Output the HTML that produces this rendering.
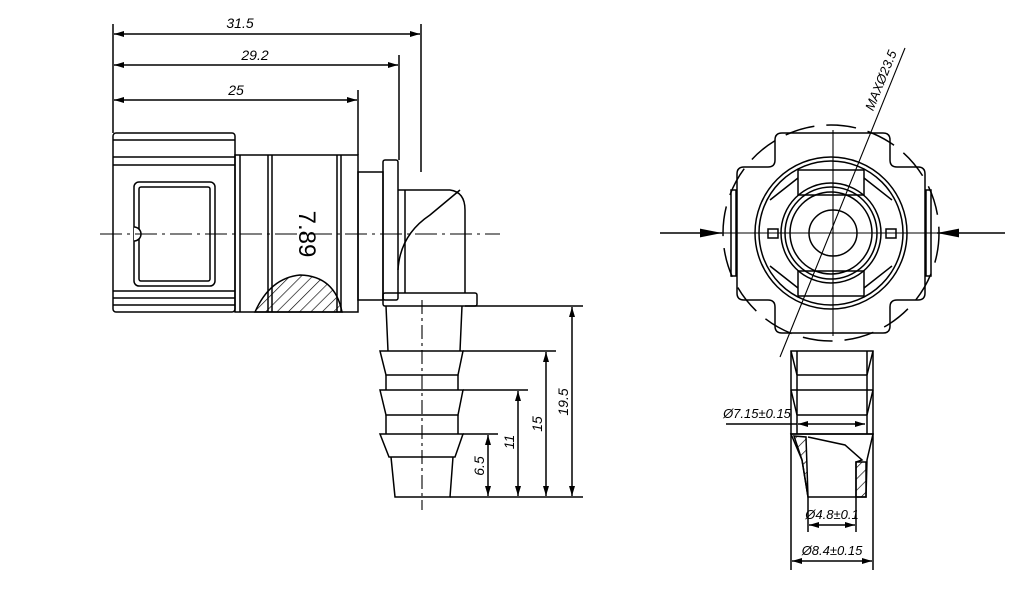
<!DOCTYPE html>
<html><head><meta charset="utf-8"><style>html,body{margin:0;padding:0;background:#fff}svg{display:block}</style></head><body>
<svg width="1024" height="593" viewBox="0 0 1024 593" xmlns="http://www.w3.org/2000/svg" font-family="Liberation Sans, sans-serif">
<defs>
<marker id="a" viewBox="0 0 10 6" refX="10" refY="3" markerWidth="10" markerHeight="6" markerUnits="userSpaceOnUse" orient="auto-start-reverse"><path d="M0,0L10,3L0,6z" fill="#000"/></marker>
<marker id="b" viewBox="0 0 20 8" refX="20" refY="4" markerWidth="22" markerHeight="9" markerUnits="userSpaceOnUse" orient="auto"><path d="M0,0L20,4L0,8z" fill="#000"/></marker>
<pattern id="h" width="8" height="8" patternUnits="userSpaceOnUse" patternTransform="rotate(45)"><line x1="0" y1="0" x2="0" y2="8" stroke="#000" stroke-width="1.3"/></pattern>
</defs>
<g fill="none" stroke="#000" stroke-width="1.5">
<!-- top dims -->
<line x1="113" y1="24" x2="113" y2="133"/>
<line x1="421" y1="24" x2="421" y2="172"/>
<line x1="399" y1="55" x2="399" y2="160"/>
<line x1="358" y1="90" x2="358" y2="155"/>
<line x1="114" y1="34" x2="420" y2="34" marker-start="url(#a)" marker-end="url(#a)"/>
<line x1="114" y1="65" x2="398" y2="65" marker-start="url(#a)" marker-end="url(#a)"/>
<line x1="114" y1="100" x2="357" y2="100" marker-start="url(#a)" marker-end="url(#a)"/>
<!-- nut -->
<rect x="113" y="133" width="122" height="179" rx="3"/>
<line x1="113" y1="140" x2="235" y2="140"/><line x1="113" y1="157" x2="235" y2="157"/><line x1="113" y1="165" x2="235" y2="165"/>
<line x1="113" y1="291" x2="235" y2="291"/><line x1="113" y1="298" x2="235" y2="298"/><line x1="113" y1="305" x2="235" y2="305"/>
<rect x="134" y="182" width="81" height="104" rx="5"/>
<rect x="139" y="187" width="71" height="94" rx="2"/>
<path d="M134,227 a7,7 0 0 1 0,14" fill="#fff"/>
<!-- barrel -->
<rect x="235" y="155" width="123" height="157"/>
<line x1="240" y1="155" x2="240" y2="312"/>
<line x1="268" y1="155" x2="268" y2="312"/><line x1="272" y1="155" x2="272" y2="312"/>
<line x1="337" y1="155" x2="337" y2="312"/><line x1="341" y1="155" x2="341" y2="312"/>
<path d="M255,312 Q270,278 300,275 Q335,276 342,312 Z" fill="url(#h)"/>
<!-- neck/flange/elbow -->
<rect x="358" y="172" width="25" height="128"/>
<rect x="383" y="160" width="15" height="140" rx="2"/>
<path d="M398,190 L450,190 Q465,192 465,210 L465,293"/>
<path d="M398,270 Q400,235 430,215 L460,190"/>
<line x1="405" y1="190" x2="405" y2="293"/>
<rect x="383" y="293" width="94" height="13" rx="2"/>
<!-- barb -->
<path d="M386,306 L388,351 M462,306 L460,351"/>
<path d="M380,351 L463,351 L458,375 L386,375 Z"/>
<path d="M386,375 L386,390 M458,375 L458,390"/>
<path d="M380,390 L463,390 L458,415 L386,415 Z"/>
<path d="M386,415 L386,434 M458,415 L458,434"/>
<path d="M380,434 L463,434 L455,457 L389,457 Z"/>
<path d="M391,457 L395,497 L450,497 L453,457"/>
<line x1="422" y1="300" x2="422" y2="510" stroke-dasharray="14,4,3,4" stroke-width="1.1"/>
<line x1="100" y1="234" x2="500" y2="234" stroke-dasharray="22,5,3,5" stroke-width="1.1"/>
<!-- right dims -->
<line x1="465" y1="306" x2="583" y2="306"/>
<line x1="463" y1="351" x2="556" y2="351"/>
<line x1="463" y1="390" x2="528" y2="390"/>
<line x1="463" y1="434" x2="498" y2="434"/>
<line x1="450" y1="497" x2="583" y2="497"/>
<line x1="572" y1="307" x2="572" y2="496" marker-start="url(#a)" marker-end="url(#a)"/>
<line x1="546" y1="352" x2="546" y2="496" marker-start="url(#a)" marker-end="url(#a)"/>
<line x1="518" y1="391" x2="518" y2="496" marker-start="url(#a)" marker-end="url(#a)"/>
<line x1="488" y1="435" x2="488" y2="496" marker-start="url(#a)" marker-end="url(#a)"/>
<!-- RIGHT VIEW -->
<circle cx="831" cy="233" r="108" stroke-dasharray="30,12"/>
<path d="M782,133 L883,133 Q890,133 890,140 L890,160 Q890,167 897,167 L918,167 Q925,167 925,174 L925,293 Q925,300 918,300 L897,300 Q890,300 890,307 L890,326 Q890,333 883,333 L782,333 Q775,333 775,326 L775,307 Q775,300 768,300 L744,300 Q737,300 737,293 L737,174 Q737,167 744,167 L768,167 Q775,167 775,160 L775,140 Q775,133 782,133 Z"/>
<rect x="731" y="190" width="5" height="86"/><rect x="926" y="190" width="5" height="86"/>
<circle cx="831" cy="233" r="76"/><circle cx="831" cy="233" r="72"/>
<circle cx="831" cy="233" r="50"/><circle cx="831" cy="233" r="46"/><circle cx="831" cy="233" r="41"/>
<ellipse cx="833" cy="233" rx="24" ry="23"/>
<rect x="798" y="170" width="66" height="25"/><rect x="798" y="271" width="66" height="25"/>
<path d="M770,200 L798,178 M770,266 L798,288 M892,200 L864,178 M892,266 L864,288"/>
<rect x="768" y="229" width="10" height="9"/><rect x="886" y="229" width="10" height="9"/>
<line x1="833" y1="130" x2="833" y2="336" stroke-width="1.1"/>
<line x1="660" y1="233" x2="722" y2="233" marker-end="url(#b)"/>
<line x1="1005" y1="233" x2="937" y2="233" marker-end="url(#b)"/>
<line x1="722" y1="233" x2="937" y2="233" stroke-width="1.1"/>
<line x1="780" y1="357" x2="905" y2="48" stroke-width="1.1"/>
<!-- stem -->
<rect x="791" y="351" width="82" height="83"/>
<line x1="797" y1="351" x2="797" y2="434"/><line x1="867" y1="351" x2="867" y2="434"/>
<path d="M791,351 L797,375 M873,351 L867,375"/>
<line x1="797" y1="375" x2="867" y2="375"/><line x1="791" y1="390" x2="873" y2="390"/>
<path d="M791,390 L797,415 M873,390 L867,415"/>
<line x1="797" y1="415" x2="867" y2="415"/>
<line x1="791" y1="434" x2="791" y2="570"/><line x1="873" y1="434" x2="873" y2="570"/>
<path d="M791,434 L873,434 L867,460 L866,497 L808,497 L802,460 Z"/>
<path d="M794,436 L806,437 L808,497 L802,460 Z" fill="url(#h)"/>
<path d="M808,437 L845,445 L862,460 L856,462 L856,497"/>
<path d="M856,462 L866,462 L866,497 L856,497 Z" fill="url(#h)"/>
<line x1="726" y1="424" x2="797" y2="424"/>
<line x1="798" y1="424" x2="865" y2="424" marker-start="url(#a)" marker-end="url(#a)"/>
<line x1="808" y1="497" x2="808" y2="532"/><line x1="856" y1="497" x2="856" y2="532"/>
<line x1="809" y1="525" x2="855" y2="525" marker-start="url(#a)" marker-end="url(#a)"/>
<line x1="792" y1="561" x2="872" y2="561" marker-start="url(#a)" marker-end="url(#a)"/>
</g>
<g font-size="14" font-style="italic" fill="#000">
<text x="240" y="28" text-anchor="middle">31.5</text>
<text x="255" y="60" text-anchor="middle">29.2</text>
<text x="236" y="95" text-anchor="middle">25</text>
<text transform="translate(299,234) rotate(90)" font-size="24" font-style="normal" text-anchor="middle">7.89</text>
<text transform="translate(568,402) rotate(-90)" text-anchor="middle">19.5</text>
<text transform="translate(542,424) rotate(-90)" text-anchor="middle">15</text>
<text transform="translate(514,442) rotate(-90)" text-anchor="middle">11</text>
<text transform="translate(484,466) rotate(-90)" text-anchor="middle">6.5</text>
<text transform="translate(885,82) rotate(-68)" text-anchor="middle" font-size="13">MAXØ23.5</text>
<text x="757" y="418" text-anchor="middle" font-size="13">Ø7.15±0.15</text>
<text x="832" y="519" text-anchor="middle" font-size="13">Ø4.8±0.1</text>
<text x="832" y="555" text-anchor="middle" font-size="13">Ø8.4±0.15</text>
</g>
</svg>
</body></html>
